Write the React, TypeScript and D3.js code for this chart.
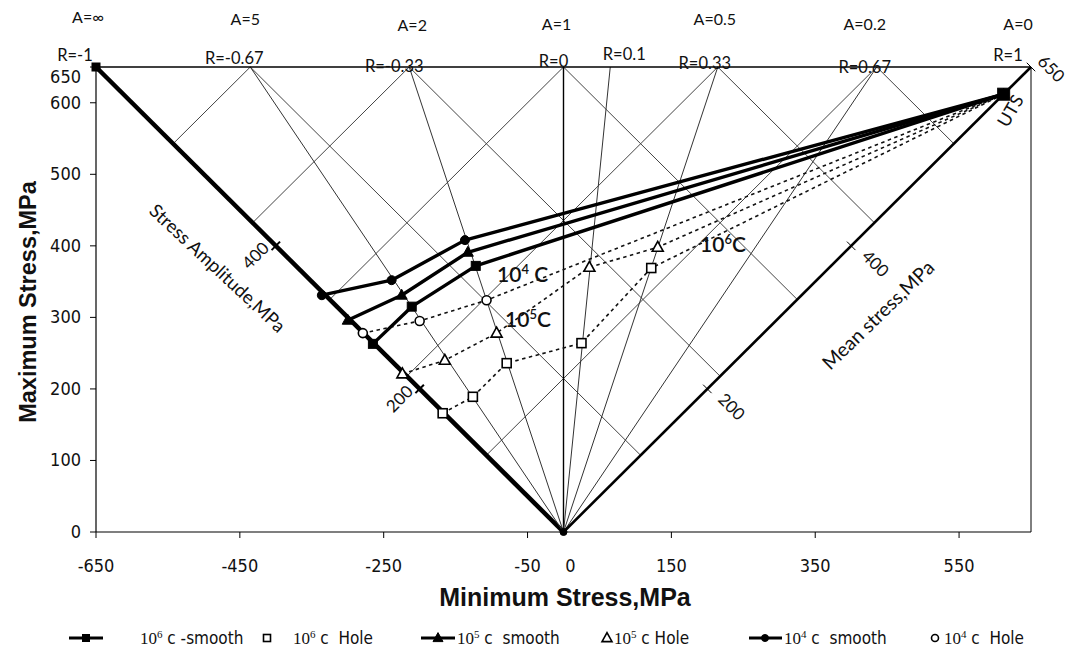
import * as d3 from "d3";

// axis ticks
const xTickValues = [-650, -450, -250, -50, 150, 350, 550];
const yTickValues = [0, 100, 200, 300, 400, 500, 600, 650];

// stress ratio lines from the origin, R = min / max
const rValues = [-1, -0.67, -0.33, 0, 0.1, 0.33, 0.67, 1];
const rLabels = ["R=-1", "R=-0.67", "R=-0.33", "R=0", "R=0.1", "R=0.33", "R=0.67", "R=1"];
const aRValues = [-1, -0.67, -0.33, 0, 0.33, 0.67, 1];
const aLabels = ["A=\u221E", "A=5", "A=2", "A=1", "A=0.5", "A=0.2", "A=0"];
const diamondR = [-0.67, -0.33, 0, 0.33, 0.67];
const amplitudeTicks = [200, 400];
const meanTicks = [200, 400, 650];
const topStress = 650;
const utsValue = 612;

// smooth specimens (min stress, max stress)
const smooth6Min = [-265, -211, -122, utsValue];
const smooth6Max = [263, 315, 372, utsValue];
const smooth5Min = [-300, -225, -133, utsValue];
const smooth5Max = [296, 331, 391, utsValue];
const smooth4Min = [-336, -239, -137, utsValue];
const smooth4Max = [331, 352, 408, utsValue];

// specimens with hole
const hole6Min = [-168, -126, -79, 25, 122, utsValue];
const hole6Max = [166, 189, 236, 264, 369, utsValue];
const hole5Min = [-224, -165, -93, 36, 131, utsValue];
const hole5Max = [221, 240, 278, 370, 398, utsValue];
const hole4Min = [-279, -200, -107, utsValue];
const hole4Max = [278, 295, 324, utsValue];

const legendExp = ["6", "6", "5", "5", "4", "4"];
const legendText = [" c -smooth", " c  Hole", " c  smooth", " c Hole", " c  smooth", " c  Hole"];

type Shape = "square" | "triangle" | "circle";

function Marker({ shape, cx, cy, filled, size }: { shape: Shape; cx: number; cy: number; filled: boolean; size: number }) {
  const fill = filled ? "#000" : "#fff";
  const sw = filled ? 1 : 1.6;
  if (shape === "square") {
    return <rect x={cx - size / 2} y={cy - size / 2} width={size} height={size} fill={fill} stroke="#000" strokeWidth={sw} />;
  }
  if (shape === "circle") {
    return <circle cx={cx} cy={cy} r={size / 2} fill={fill} stroke="#000" strokeWidth={sw} />;
  }
  const h = size * 0.9;
  const pts = `${cx},${cy - h * 0.6} ${cx - size / 2},${cy + h * 0.4} ${cx + size / 2},${cy + h * 0.4}`;
  return <polygon points={pts} fill={fill} stroke="#000" strokeWidth={sw} strokeLinejoin="miter" />;
}

export default function App() {
  const x = d3.scaleLinear().domain([-650, 650]).range([96, 1031]);
  const y = d3.scaleLinear().domain([0, 650]).range([532, 67]);
  const narrow = "'Liberation Sans Narrow', 'DejaVu Sans Condensed', 'Liberation Sans', Arial, sans-serif";
  const inner = "Lato, 'Open Sans', sans-serif";

  const path = (mins: number[], maxs: number[]) =>
    d3
      .line<number>()
      .x((d) => x(d))
      .y((_, i) => y(maxs[i]))(mins) || "";

  const smoothSeries = [
    { mins: smooth6Min, maxs: smooth6Max, shape: "square" as Shape },
    { mins: smooth5Min, maxs: smooth5Max, shape: "triangle" as Shape },
    { mins: smooth4Min, maxs: smooth4Max, shape: "circle" as Shape },
  ];
  const holeSeries = [
    { mins: hole6Min, maxs: hole6Max, shape: "square" as Shape },
    { mins: hole5Min, maxs: hole5Max, shape: "triangle" as Shape },
    { mins: hole4Min, maxs: hole4Max, shape: "circle" as Shape },
  ];

  const rLabelDx = [-21, -16, -15, -10, 14, -13, -12, -23];
  const rLabelY = [61, 64, 72, 67, 60, 69, 73, 61];
  const aLabelDx = [-8, -5, 3, -7, -3, -12, -13];
  const aLabelY = [23, 25, 31, 30, 25, 30, 30];

  const legendLayout = [
    { sample: [69, 103], marker: 86, text: 140, shape: "square" as Shape, filled: true },
    { sample: null, marker: 267, text: 293, shape: "square" as Shape, filled: false },
    { sample: [421, 455], marker: 438, text: 457, shape: "triangle" as Shape, filled: true },
    { sample: null, marker: 607, text: 614, shape: "triangle" as Shape, filled: false },
    { sample: [749, 782], marker: 765, text: 784, shape: "circle" as Shape, filled: true },
    { sample: null, marker: 935, text: 944, shape: "circle" as Shape, filled: false },
  ];
  const legendY = 638;

  const s2 = Math.SQRT1_2;

  return (
    <svg width={1072} height={656} style={{ position: "absolute", left: 0, top: 0, background: "#fff" }}>
      <rect width={1072} height={656} fill="#fff" />

      {/* diamond grid: constant amplitude and constant mean lines */}
      {diamondR.map((r) => {
        const mn = r * topStress;
        const amp = (topStress - mn) / 2;
        const mean = (topStress + mn) / 2;
        return (
          <g key={`d${r}`} stroke="#444" strokeWidth={1} fill="none">
            <line x1={x(mn)} y1={y(topStress)} x2={x(-amp)} y2={y(amp)} />
            <line x1={x(mn)} y1={y(topStress)} x2={x(mean)} y2={y(mean)} />
          </g>
        );
      })}

      {/* stress ratio lines */}
      {rValues.map((r) => {
        const w = r === -1 ? 4.5 : r === 1 ? 2.6 : r === 0 ? 1.4 : 1;
        return (
          <line key={`r${r}`} x1={x(0)} y1={y(0)} x2={x(r * topStress)} y2={y(topStress)} stroke={Math.abs(r) === 1 || r === 0 ? "#000" : "#333"} strokeWidth={w} />
        );
      })}

      {/* frame */}
      <line x1={x(-650)} y1={y(650)} x2={x(650)} y2={y(650)} stroke="#000" strokeWidth={1.5} />
      <line x1={x(650)} y1={y(650)} x2={x(650)} y2={y(0)} stroke="#000" strokeWidth={1} />
      <line x1={x(-650)} y1={y(0)} x2={x(650)} y2={y(0)} stroke="#000" strokeWidth={1.2} />
      <line x1={x(-650)} y1={y(0)} x2={x(-650)} y2={y(650)} stroke="#000" strokeWidth={1.2} />

      {/* x axis */}
      {xTickValues.map((v) => (
        <g key={`xt${v}`}>
          <line x1={x(v)} y1={y(0)} x2={x(v)} y2={y(0) + 6} stroke="#000" />
          <text x={x(v)} y={572} textAnchor="middle" fontFamily={narrow} fontSize={18} fill="#111">
            {v}
          </text>
        </g>
      ))}
      <text x={x(0) + 7} y={572} textAnchor="middle" fontFamily={narrow} fontSize={18} fill="#111">
        0
      </text>

      {/* y axis */}
      {yTickValues.map((v) => (
        <g key={`yt${v}`}>
          <line x1={x(-650) - 6} y1={y(v)} x2={x(-650)} y2={y(v)} stroke="#000" />
          <text x={81} y={v === 650 ? y(v) + 16 : y(v) + 6} textAnchor="end" fontFamily={narrow} fontSize={18} fill="#111">
            {v}
          </text>
        </g>
      ))}

      {/* R and A labels */}
      {rValues.map((r, i) => (
        <text key={`rl${r}`} x={x(r * topStress) + rLabelDx[i]} y={rLabelY[i]} textAnchor="middle" fontFamily={inner} fontSize={16.5} fill="#111">
          {rLabels[i]}
        </text>
      ))}
      {aRValues.map((r, i) => (
        <text key={`al${r}`} x={x(r * topStress) + aLabelDx[i]} y={aLabelY[i]} textAnchor="middle" fontFamily={inner} fontSize={16} fill="#111">
          {aLabels[i]}
        </text>
      ))}

      {/* amplitude axis ticks (along R=-1) */}
      {amplitudeTicks.map((a) => {
        const px = x(-a);
        const py = y(a);
        return (
          <g key={`at${a}`}>
            <line x1={px - 6 * s2} y1={py + 6 * s2} x2={px + 6 * s2} y2={py - 6 * s2} stroke="#000" strokeWidth={2} />
            <text transform={`translate(${px - 16},${py + 14}) rotate(-45)`} textAnchor="middle" fontFamily={inner} fontSize={17} fill="#111">
              {a}
            </text>
          </g>
        );
      })}
      <text transform="translate(213,273) rotate(43)" textAnchor="middle" fontFamily={inner} fontSize={18.5} fill="#111">
        Stress Amplitude,MPa
      </text>

      {/* mean stress axis ticks (along R=1) */}
      {meanTicks.map((m) => {
        const px = x(m);
        const py = y(m);
        return (
          <g key={`mt${m}`}>
            <line x1={px - 6 * s2} y1={py - 6 * s2} x2={px + 6 * s2} y2={py + 6 * s2} stroke="#000" strokeWidth={1} />
            <text
              transform={m === 650 ? `translate(${px + 16},${py + 6}) rotate(45)` : `translate(${px + 20},${py + 22}) rotate(45)`}
              textAnchor="middle"
              fontFamily={inner}
              fontSize={17}
              fill="#111"
            >
              {m}
            </text>
          </g>
        );
      })}
      <text transform="translate(883,320) rotate(-44)" textAnchor="middle" fontFamily={inner} fontSize={19.5} fill="#111">
        Mean stress,MPa
      </text>
      <text transform="translate(1016,114) rotate(-60)" textAnchor="middle" fontFamily={inner} fontSize={18} fill="#111">
        UTS
      </text>

      {/* hole series, dashed */}
      {holeSeries.map((s, k) => (
        <g key={`h${k}`}>
          <path d={path(s.mins, s.maxs)} fill="none" stroke="#111" strokeWidth={1.6} strokeDasharray="3.5,3.5" />
          {s.mins.slice(0, -1).map((mn, i) => (
            <Marker key={i} shape={s.shape} cx={x(mn)} cy={y(s.maxs[i])} filled={false} size={s.shape === "triangle" ? 11 : 9} />
          ))}
        </g>
      ))}

      {/* smooth series, thick */}
      {smoothSeries.map((s, k) => (
        <g key={`s${k}`}>
          <path d={path(s.mins, s.maxs)} fill="none" stroke="#000" strokeWidth={3.4} strokeLinejoin="round" />
          {s.mins.map((mn, i) => (
            <Marker key={i} shape={s.shape} cx={x(mn)} cy={y(s.maxs[i])} filled={true} size={s.shape === "triangle" ? 11 : 9} />
          ))}
        </g>
      ))}
      <Marker shape="square" cx={x(utsValue)} cy={y(utsValue)} filled={true} size={12} />
      <Marker shape="square" cx={x(-650)} cy={y(650)} filled={true} size={8} />
      <Marker shape="circle" cx={x(0)} cy={y(0)} filled={true} size={7} />

      {/* cycle labels */}
      <text x={497} y={282} fontFamily={inner} fontSize={21} fontWeight={600} fill="#111">
        10<tspan dy={-8} fontSize={13}>4</tspan>
        <tspan dy={8}> C</tspan>
      </text>
      <text x={505} y={327} fontFamily={inner} fontSize={21} fontWeight={600} fill="#111">
        10<tspan dy={-8} fontSize={13}>5</tspan>
        <tspan dy={8}>C</tspan>
      </text>
      <text x={700} y={252} fontFamily={inner} fontSize={21} fontWeight={600} fill="#111">
        10<tspan dy={-8} fontSize={13}>6</tspan>
        <tspan dy={8}>C</tspan>
      </text>

      {/* axis titles */}
      <text x={565} y={606} textAnchor="middle" fontFamily="'Liberation Sans', Arial, sans-serif" fontWeight="bold" fontSize={25} fill="#111">
        Minimum Stress,MPa
      </text>
      <text transform="translate(36,302) rotate(-90)" textAnchor="middle" fontFamily="'Liberation Sans', Arial, sans-serif" fontWeight="bold" fontSize={23.5} fill="#111">
        Maximum Stress,MPa
      </text>

      {/* legend */}
      {legendLayout.map((l, i) => (
        <g key={`lg${i}`}>
          {l.sample && <line x1={l.sample[0]} y1={legendY} x2={l.sample[1]} y2={legendY} stroke="#000" strokeWidth={3} />}
          <Marker shape={l.shape} cx={l.marker} cy={legendY} filled={l.filled} size={l.shape === "triangle" ? 10 : 7} />
          <text x={l.text} y={legendY + 6} fontFamily={narrow} fontSize={17} fill="#111" style={{ whiteSpace: "pre" }}>
            <tspan fontFamily="'Liberation Serif', serif">10</tspan>
            <tspan dy={-6} fontSize={11} fontFamily="'Liberation Serif', serif">
              {legendExp[i]}
            </tspan>
            <tspan dy={6}>{legendText[i]}</tspan>
          </text>
        </g>
      ))}
    </svg>
  );
}
